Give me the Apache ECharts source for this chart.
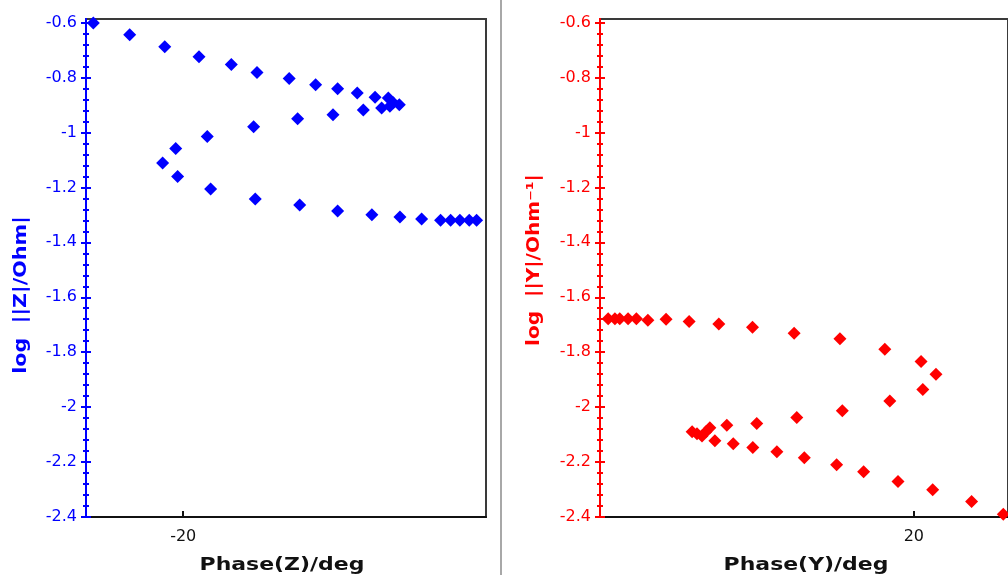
<!DOCTYPE html>
<html>
<head>
<meta charset="utf-8">
<script src="https://cdn.jsdelivr.net/npm/echarts@6/dist/echarts.min.js"></script>
<style>html,body{margin:0;padding:0;background:#fff;}#c{width:1008px;height:575px;}</style>
</head>
<body>
<div id="c"></div>
<script>
// ---- data ----
const zPoints = [
  [-25.64,-0.602],[-23.36,-0.644],[-21.16,-0.688],[-19.01,-0.724],[-16.98,-0.753],[-15.37,-0.782],
  [-13.35,-0.804],[-11.69,-0.826],[-10.31,-0.841],[-9.08,-0.856],[-7.96,-0.872],[-7.13,-0.875],
  [-6.82,-0.892],[-6.44,-0.899],[-7.03,-0.905],[-7.55,-0.911],[-8.7,-0.918],[-10.6,-0.936],
  [-12.82,-0.950],[-15.58,-0.979],[-18.49,-1.015],[-20.47,-1.058],[-21.29,-1.111],[-20.35,-1.160],
  [-18.28,-1.206],[-15.48,-1.242],[-12.69,-1.264],[-10.31,-1.286],[-8.16,-1.300],[-6.4,-1.308],
  [-5.04,-1.315],[-3.85,-1.320],[-3.22,-1.320],[-2.64,-1.320],[-2.05,-1.320],[-1.59,-1.320]
];
const yPoints = [
  [0.52,-1.678],[0.95,-1.678],[1.26,-1.678],[1.79,-1.678],[2.32,-1.678],[3.05,-1.684],[4.21,-1.680],
  [5.68,-1.688],[7.57,-1.697],[9.72,-1.709],[12.37,-1.731],[15.29,-1.751],[18.15,-1.789],[20.46,-1.834],
  [21.41,-1.880],[20.57,-1.936],[18.47,-1.978],[15.44,-2.013],[12.54,-2.038],[9.99,-2.060],[8.08,-2.066],
  [7.00,-2.075],[6.75,-2.090],[5.87,-2.090],[6.18,-2.097],[6.50,-2.105],[7.32,-2.122],[8.49,-2.133],
  [9.74,-2.147],[11.27,-2.162],[13.02,-2.184],[15.08,-2.210],[16.8,-2.235],[18.99,-2.271],[21.2,-2.301],
  [23.68,-2.344],[25.7,-2.39]
];
const yMajorTicks = [-2.4,-2.2,-2.0,-1.8,-1.6,-1.4,-1.2,-1.0,-0.8,-0.6];
const yMinorTicks = [];
for (let i = -60; i <= -15; i++) yMinorTicks.push(+(i * 0.04).toFixed(2));
const zPhaseTicks = [-20];
const yPhaseTicks = [20];
const zAxisName = 'log  ||Z|/Ohm|';
const yAxisName = 'log  ||Y|/Ohm\u207B\u00B9|';
const zPhaseName = 'Phase(Z)/deg';
const yPhaseName = 'Phase(Y)/deg';

// ---- chart ----
const BLUE = '#0000ff', RED = '#ff0000';
const Y_MIN = -2.4, Y_MAX = -0.587;
const chart = echarts.init(document.getElementById('c'), null, {renderer: 'canvas'});

function yAxes(gridIndex, color, withLabel, values, inside, len) {
  return {
    type: 'value', gridIndex, min: Y_MIN, max: Y_MAX, position: 'left',
    splitLine: {show: false},
    axisLine: {show: true, onZero: false, lineStyle: {color, width: 2}},
    axisTick: {show: true, inside, length: len, customValues: values, lineStyle: {color, width: 2}},
    axisLabel: withLabel ? {show: true, customValues: yMajorTicks, color, fontFamily: 'DejaVu Sans', fontSize: 16, margin: 9,
      formatter: v => (Math.round(v * 10) / 10).toString()} : {show: false}
  };
}

function xAxis(gridIndex, min, max, ticks) {
  return {
    type: 'value', gridIndex, min, max,
    splitLine: {show: false},
    axisLine: {show: true, onZero: false, lineStyle: {color: '#111', width: 2}},
    axisTick: {show: true, inside: true, length: 6, customValues: ticks, lineStyle: {color: '#111', width: 2}},
    axisLabel: {show: true, customValues: ticks, color: '#111', fontFamily: 'DejaVu Sans', fontSize: 16, margin: 12}
  };
}

const nameFont = 'bold 17px "DejaVu Sans"';
const option = {
  animation: false,
  backgroundColor: '#fff',
  grid: [
    {left: 86, top: 19, width: 400, height: 498, show: true, borderColor: '#3a3a3a', borderWidth: 2, backgroundColor: 'transparent'},
    {left: 600, top: 19, width: 412, height: 498, show: true, borderColor: '#3a3a3a', borderWidth: 2, backgroundColor: 'transparent'}
  ],
  xAxis: [
    xAxis(0, -26.1, -1.0, zPhaseTicks),
    xAxis(1, 0, 26.0, yPhaseTicks)
  ],
  yAxis: [
    yAxes(0, BLUE, true, yMajorTicks, false, 5),
    yAxes(0, BLUE, false, yMajorTicks, true, 5),
    yAxes(0, BLUE, false, yMinorTicks, false, 3),
    yAxes(0, BLUE, false, yMinorTicks, true, 3),
    yAxes(1, RED, true, yMajorTicks, false, 5),
    yAxes(1, RED, false, yMajorTicks, true, 5),
    yAxes(1, RED, false, yMinorTicks, false, 3),
    yAxes(1, RED, false, yMinorTicks, true, 3)
  ],
  series: [
    {type: 'scatter', xAxisIndex: 0, yAxisIndex: 0, data: zPoints, symbol: 'diamond', symbolSize: 13,
      itemStyle: {color: BLUE, opacity: 1}, clip: false},
    {type: 'scatter', xAxisIndex: 1, yAxisIndex: 4, data: yPoints, symbol: 'diamond', symbolSize: 13,
      itemStyle: {color: RED, opacity: 1}, clip: false}
  ],
  graphic: [
    {type: 'rect', left: 500, top: 0, shape: {width: 2, height: 575}, style: {fill: '#a8a8a8'}, silent: true},
    {type: 'text', x: 22, y: 295, rotation: Math.PI / 2, scaleX: 1.22,
      style: {text: zAxisName, fill: BLUE, font: nameFont, align: 'center', verticalAlign: 'middle'}},
    {type: 'text', x: 535, y: 260, rotation: Math.PI / 2, scaleX: 1.18,
      style: {text: yAxisName, fill: RED, font: nameFont, align: 'center', verticalAlign: 'middle'}},
    {type: 'text', x: 282, y: 565, scaleX: 1.22,
      style: {text: zPhaseName, fill: '#111', font: 'bold 18px "DejaVu Sans"', align: 'center', verticalAlign: 'middle'}},
    {type: 'text', x: 806, y: 565, scaleX: 1.22,
      style: {text: yPhaseName, fill: '#111', font: 'bold 18px "DejaVu Sans"', align: 'center', verticalAlign: 'middle'}}
  ]
};
chart.setOption(option);
</script>
</body>
</html>
